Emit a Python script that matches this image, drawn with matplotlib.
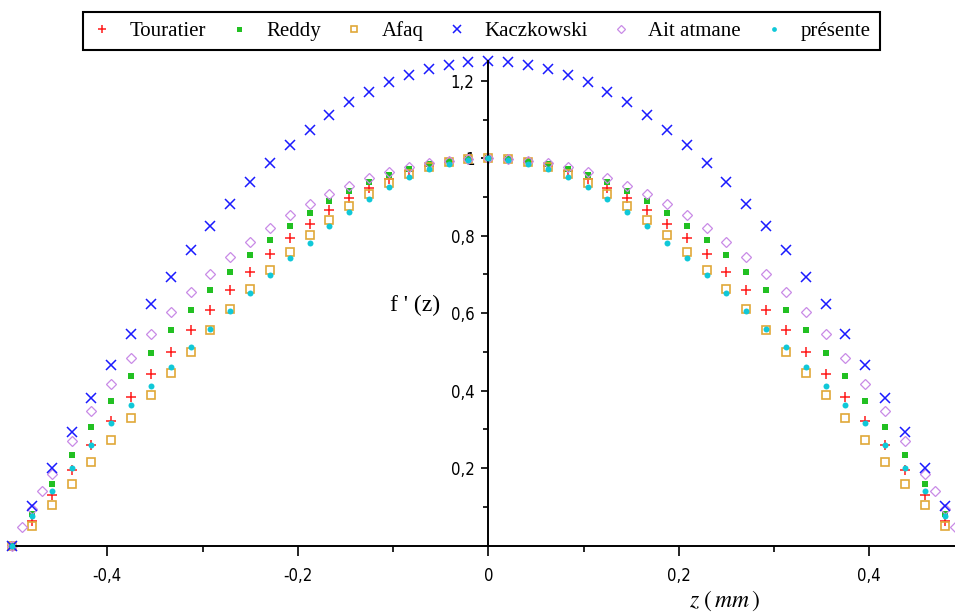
import matplotlib
matplotlib.use("Agg")
import matplotlib.pyplot as plt
from matplotlib.ticker import FixedLocator, FuncFormatter

# z positions (mm), common to all series
z = [-0.5, -0.4792, -0.4583, -0.4375, -0.4167, -0.3958, -0.375, -0.3542,
     -0.3333, -0.3125, -0.2917, -0.2708, -0.25, -0.2292, -0.2083, -0.1875,
     -0.1667, -0.1458, -0.125, -0.1042, -0.0833, -0.0625, -0.0417, -0.0208,
     0.0,
     0.0208, 0.0417, 0.0625, 0.0833, 0.1042, 0.125, 0.1458, 0.1667, 0.1875,
     0.2083, 0.2292, 0.25, 0.2708, 0.2917, 0.3125, 0.3333, 0.3542, 0.375,
     0.3958, 0.4167, 0.4375, 0.4583, 0.4792, 0.5]

touratier = [0.000, 0.065, 0.131, 0.195, 0.259, 0.321, 0.383, 0.442, 0.500,
             0.556, 0.609, 0.659, 0.707, 0.752, 0.793, 0.831, 0.866, 0.897,
             0.924, 0.947, 0.966, 0.981, 0.991, 0.998, 1.000,
             0.998, 0.991, 0.981, 0.966, 0.947, 0.924, 0.897, 0.866, 0.831,
             0.793, 0.752, 0.707, 0.659, 0.609, 0.556, 0.500, 0.442, 0.383,
             0.321, 0.259, 0.195, 0.131, 0.065, 0.000]

reddy = [0.000, 0.082, 0.160, 0.234, 0.306, 0.373, 0.438, 0.498, 0.556,
         0.609, 0.660, 0.707, 0.750, 0.790, 0.826, 0.859, 0.889, 0.915,
         0.938, 0.957, 0.972, 0.984, 0.993, 0.998, 1.000,
         0.998, 0.993, 0.984, 0.972, 0.957, 0.938, 0.915, 0.889, 0.859,
         0.826, 0.790, 0.750, 0.707, 0.660, 0.609, 0.556, 0.498, 0.438,
         0.373, 0.306, 0.234, 0.160, 0.082, 0.000]

afaq = [0.000, 0.052, 0.105, 0.160, 0.216, 0.273, 0.330, 0.388, 0.445,
        0.501, 0.557, 0.610, 0.662, 0.711, 0.758, 0.801, 0.841, 0.877,
        0.909, 0.936, 0.959, 0.977, 0.990, 0.997, 1.000,
        0.997, 0.990, 0.977, 0.959, 0.936, 0.909, 0.877, 0.841, 0.801,
        0.758, 0.711, 0.662, 0.610, 0.557, 0.501, 0.445, 0.388, 0.330,
        0.273, 0.216, 0.160, 0.105, 0.052, 0.000]

kaczkowski = [0.000, 0.102, 0.200, 0.293, 0.382, 0.467, 0.547, 0.623, 0.694,
              0.762, 0.825, 0.883, 0.938, 0.987, 1.033, 1.074, 1.111, 1.144,
              1.172, 1.196, 1.215, 1.230, 1.241, 1.248, 1.250,
              1.248, 1.241, 1.230, 1.215, 1.196, 1.172, 1.144, 1.111, 1.074,
              1.033, 0.987, 0.938, 0.883, 0.825, 0.762, 0.694, 0.623, 0.547,
              0.467, 0.382, 0.293, 0.200, 0.102, 0.000]

presente = [0.000, 0.077, 0.141, 0.201, 0.260, 0.317, 0.364, 0.413, 0.462,
            0.512, 0.560, 0.605, 0.651, 0.699, 0.743, 0.782, 0.826, 0.862,
            0.896, 0.925, 0.951, 0.971, 0.986, 0.996, 1.000,
            0.996, 0.986, 0.971, 0.951, 0.925, 0.896, 0.862, 0.826, 0.782,
            0.743, 0.699, 0.651, 0.605, 0.560, 0.512, 0.462, 0.413, 0.364,
            0.317, 0.260, 0.201, 0.141, 0.077, 0.000]

# Ait atmane has two extra points near each face
z_ait = [-0.5, -0.4896, -0.4792, -0.4688, -0.4583, -0.4375, -0.4167, -0.3958,
         -0.375, -0.3542, -0.3333, -0.3125, -0.2917, -0.2708, -0.25, -0.2292,
         -0.2083, -0.1875, -0.1667, -0.1458, -0.125, -0.1042, -0.0833,
         -0.0625, -0.0417, -0.0208, 0.0,
         0.0208, 0.0417, 0.0625, 0.0833, 0.1042, 0.125, 0.1458, 0.1667,
         0.1875, 0.2083, 0.2292, 0.25, 0.2708, 0.2917, 0.3125, 0.3333, 0.3542,
         0.375, 0.3958, 0.4167, 0.4375, 0.4583, 0.4688, 0.4792, 0.4896, 0.5]
ait_atmane = [0.000, 0.049, 0.096, 0.142, 0.186, 0.269, 0.347, 0.418, 0.485,
              0.546, 0.602, 0.654, 0.702, 0.745, 0.785, 0.821, 0.853, 0.882,
              0.907, 0.929, 0.948, 0.964, 0.977, 0.987, 0.994, 0.999, 1.000,
              0.999, 0.994, 0.987, 0.977, 0.964, 0.948, 0.929, 0.907, 0.882,
              0.853, 0.821, 0.785, 0.745, 0.702, 0.654, 0.602, 0.546, 0.485,
              0.418, 0.347, 0.269, 0.186, 0.142, 0.096, 0.049, 0.000]

x_ticks = [-0.4, -0.2, 0.0, 0.2, 0.4]
y_ticks = [0.2, 0.4, 0.6, 0.8, 1.0, 1.2]

plt.rcParams["mathtext.fontset"] = "stix"

fig = plt.figure(figsize=(9.55, 6.14), dpi=100)
ax = fig.add_axes([12 / 955, 68.3 / 614, 943 / 955, 484.3 / 614])

# Plot the six solutions.
common = dict(linestyle="none", clip_on=False)
h_tour, = ax.plot(z, touratier, marker="+", color="#ff1a1a", markersize=7.5,
                  markeredgewidth=1.1, label="Touratier", **common)
h_reddy, = ax.plot(z, reddy, marker="s", color="#22c022", markersize=4.5,
                   markeredgewidth=0, label="Reddy", **common)
h_afaq, = ax.plot(z, afaq, marker="s", color="#e0a838", markerfacecolor="none",
                  markersize=6, markeredgewidth=1.2, label="Afaq", **common)
h_ait, = ax.plot(z_ait, ait_atmane, marker="D", color="#c98ae6",
                 markerfacecolor="none", markersize=4.8, markeredgewidth=0.9,
                 label="Ait atmane", zorder=2.0, **common)
h_kacz, = ax.plot(z, kaczkowski, marker="x", color="#1a1aff", markersize=7.5,
                  markeredgewidth=1.1, label="Kaczkowski", **common)
h_pres, = ax.plot(z, presente, marker="o", color="#10c8d8", markersize=4.3,
                  markeredgewidth=0, label="présente", zorder=3, **common)

ax.set_xlim(-0.5, 0.49)
ax.set_ylim(0, 1.25)

# Axes crossing at the origin.
for side in ["top", "right"]:
    ax.spines[side].set_visible(False)
ax.spines["left"].set_position(("data", 0))
ax.spines["bottom"].set_position(("data", 0))
ax.spines["left"].set_linewidth(1.4)
ax.spines["bottom"].set_linewidth(1.4)

comma = FuncFormatter(lambda v, pos: f"{v:g}".replace(".", ","))
ax.xaxis.set_major_locator(FixedLocator(x_ticks))
ax.yaxis.set_major_locator(FixedLocator(y_ticks))
ax.xaxis.set_minor_locator(FixedLocator([-0.3, -0.1, 0.1, 0.3]))
ax.yaxis.set_minor_locator(FixedLocator([0.1, 0.3, 0.5, 0.7, 0.9, 1.1]))
ax.xaxis.set_major_formatter(comma)
ax.yaxis.set_major_formatter(comma)
ax.tick_params(axis="x", which="major", length=7.2, width=1.2, labelsize=12,
               direction="out", pad=8)
ax.tick_params(axis="x", which="minor", length=4.3, width=1.2, direction="out")
ax.tick_params(axis="y", which="major", length=5, width=1.2, labelsize=12,
               direction="out", pad=5)
ax.tick_params(axis="y", which="minor", length=3.4, width=1.2, direction="out")
for lbl in ax.get_xticklabels() + ax.get_yticklabels():
    lbl.set_family("DejaVu Sans")
    lbl.set_fontstretch("condensed")

# Axis labels placed like the original.
ax.text(-0.051, 0.621, "f ' (z)", family="Liberation Serif", fontsize=17,
        ha="right", va="center")
ax.text(0.211, -0.143, r"$z\ \left(\,mm\,\right)$", fontsize=17,
        ha="left", va="center", clip_on=False)

handles = [h_tour, h_reddy, h_afaq, h_kacz, h_ait, h_pres]
leg = fig.legend(handles=handles, labels=[h.get_label() for h in handles],
                 loc="upper center", bbox_to_anchor=(0.504, 0.981), ncol=6,
                 prop={"family": "Liberation Serif", "size": 15},
                 frameon=True, fancybox=False, edgecolor="black",
                 framealpha=1, borderaxespad=0, borderpad=0.45,
                 handlelength=1.0, handletextpad=0.8, columnspacing=1.1,
                 markerscale=0.8)
leg.get_frame().set_linewidth(1.5)

fig.savefig("out.png", dpi=100)
